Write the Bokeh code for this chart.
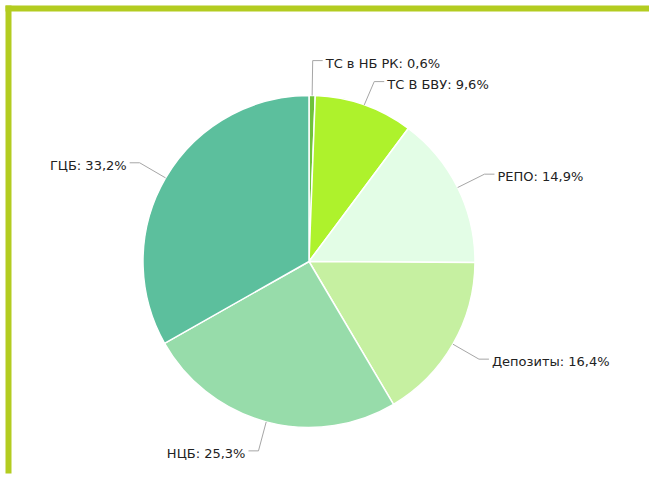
import math
from bokeh.plotting import figure
from bokeh.models import Range1d, ColumnDataSource
from bokeh.core.properties import value
from bokeh.embed import file_html
from bokeh.resources import INLINE

categories = ["ТС в НБ РК", "ТС В БВУ", "РЕПО", "Депозиты", "НЦБ", "ГЦБ"]
shares = [0.6, 9.6, 14.9, 16.4, 25.3, 33.2]
colors = ["#6fc23a", "#aef22c", "#e3fde6", "#c6f0a1", "#97dcaa", "#5cbf9d"]

W, H = 649, 479
p = figure(width=W, height=H, output_backend="svg", toolbar_location=None,
           x_range=Range1d(0, W), y_range=Range1d(0, H), min_border=0)
p.axis.visible = False
p.grid.visible = False
p.outline_line_color = None
p.background_fill_color = "white"
p.border_fill_color = "white"

# frame border (yellow-green)
border_col = "#b3cc20"
p.quad(left=[5, 5], right=[W, 11], bottom=[H - 11, 6], top=[H - 5, H - 5],
       fill_color=border_col, line_color=None)

cx, cy, R = 308.5, 218, 166
total = sum(shares)
starts, ends, mids = [], [], []
acc = 0.0
for v in shares:
    a0 = math.pi / 2 - 2 * math.pi * acc / total
    acc += v
    a1 = math.pi / 2 - 2 * math.pi * acc / total
    starts.append(a0)
    ends.append(a1)
    mids.append((a0 + a1) / 2)

src = ColumnDataSource(dict(start=starts, end=ends, color=colors))
p.wedge(x=cx, y=cy, radius=R, radius_units="screen", start_angle="start",
        end_angle="end", direction="clock", fill_color="color",
        line_color="white", line_width=1.5, source=src)

# label anchor computation (Highcharts-like, distance 30)
dist = 30
gap = 21
items = []
for cat, v, m in zip(categories, shares, mids):
    c, s = math.cos(m), math.sin(m)
    items.append(dict(cat=cat, v=v, ex=cx + R * c, ey=cy + R * s,
                      bx=cx + (R + dist) * c, by=cy + (R + dist) * s,
                      right=c >= 0))
# separate overlapping labels on the same side
for side in (True, False):
    grp = sorted([it for it in items if it["right"] == side], key=lambda d: -d["by"])
    for a, b in zip(grp, grp[1:]):
        d = a["by"] - b["by"]
        if d < gap:
            shift = (gap - d) / 2
            a["by"] += shift
            b["by"] -= shift

xs, ys, tx, ty, txt, al = [], [], [], [], [], []
for it in items:
    hx = it["bx"] + 10 if it["right"] else it["bx"] - 10
    xs.append([it["ex"], it["bx"], hx])
    ys.append([it["ey"], it["by"], it["by"]])
    tx.append(hx + 3 if it["right"] else hx - 3)
    ty.append(it["by"] - 2.5)
    txt.append(f"{it['cat']}: {it['v']:.1f}%".replace(".", ","))
    al.append("left" if it["right"] else "right")

p.multi_line(xs=xs, ys=ys, line_color="#a6a6a6", line_width=1)
lsrc = ColumnDataSource(dict(x=tx, y=ty, t=txt, a=al))
p.text(x="x", y="y", text="t", text_align="a", text_baseline="middle",
       text_font=value("DejaVu Sans"), text_font_size="13px",
       text_color="#222222", source=lsrc)

open("out.html", "w").write(file_html(p, INLINE))
